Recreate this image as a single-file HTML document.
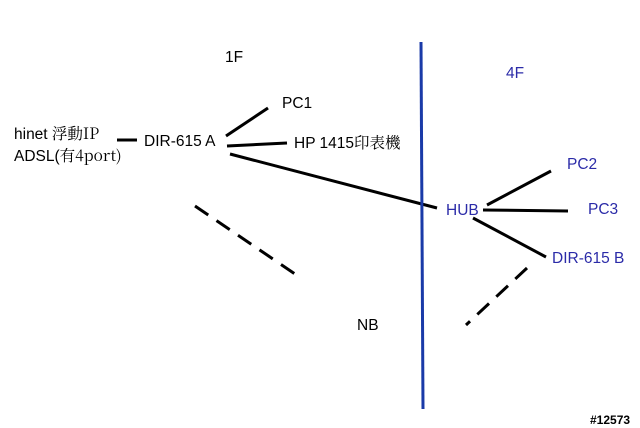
<!DOCTYPE html>
<html><head><meta charset="utf-8"><style>
html,body{margin:0;padding:0;background:#fff;}
svg{display:block;}
text{font-family:"Liberation Sans","Noto Sans CJK TC",sans-serif;font-size:15.5px;}
.s{font-family:"Noto Serif CJK SC","Liberation Serif",serif;}
.b{fill:#2b2ba8;}
</style></head><body>
<svg width="640" height="428" viewBox="0 0 640 428" xmlns="http://www.w3.org/2000/svg">
<rect width="640" height="428" fill="#fff"/>
<g stroke="#000" stroke-width="3" fill="none">
<line x1="117" y1="140" x2="137" y2="140"/>
<line x1="226" y1="136" x2="268" y2="108"/>
<line x1="227" y1="146" x2="287" y2="143"/>
<line x1="230" y1="154" x2="437" y2="208"/>
<line x1="487" y1="205" x2="551" y2="171"/>
<line x1="483" y1="210" x2="568" y2="211"/>
<line x1="473" y1="218" x2="546" y2="257"/>
<line x1="195" y1="206" x2="298" y2="276" stroke-dasharray="16,10"/>
<line x1="527" y1="268" x2="466" y2="325" stroke-dasharray="16,10"/>
</g>
<line x1="421" y1="42" x2="423" y2="409" stroke="#1a3aa8" stroke-width="3"/>
<text x="225" y="62">1F</text>
<text x="506" y="78" class="b">4F</text>
<text x="282" y="108">PC1</text>
<text x="14" y="139">hinet <tspan class="s">浮動IP</tspan></text>
<text x="14" y="161">ADSL(<tspan class="s">有4port)</tspan></text>
<text x="144" y="146">DIR-615 A</text>
<text x="294" y="148">HP 1415<tspan class="s">印表機</tspan></text>
<text x="446" y="215" class="b">HUB</text>
<text x="567" y="169" class="b">PC2</text>
<text x="588" y="214" class="b">PC3</text>
<text x="552" y="263" class="b">DIR-615 B</text>
<text x="357" y="330">NB</text>
<text x="590" y="424" style="font-size:12px;font-weight:bold">#12573</text>
</svg>
</body></html>
